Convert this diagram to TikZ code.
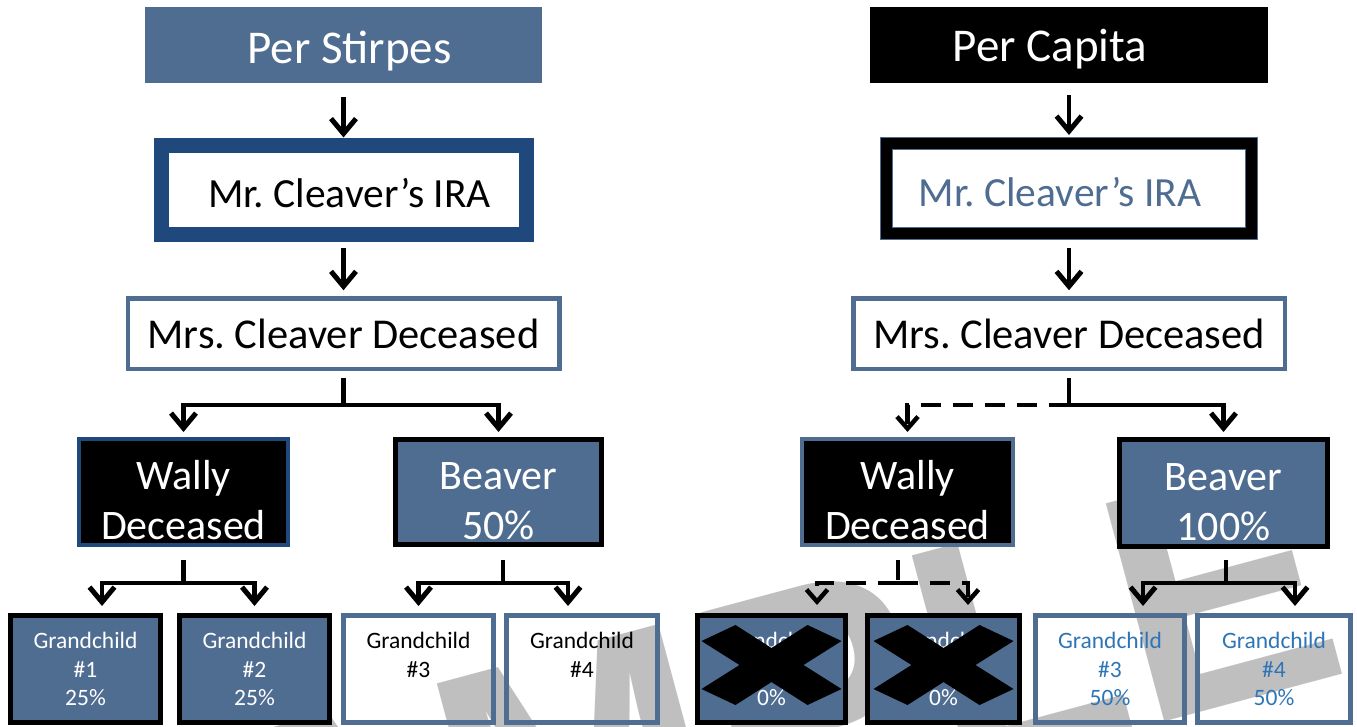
\documentclass[tikz,border=0pt]{standalone}
\usepackage{fontspec}
\setmainfont{Carlito}
\newfontfamily\wmfont{Liberation Sans}
\usetikzlibrary{arrows.meta}
\definecolor{sb}{RGB}{79,108,145}
\definecolor{db}{RGB}{31,73,125}
\definecolor{lb}{RGB}{46,117,182}
\definecolor{wmgray}{RGB}{191,191,191}
\newcommand{\fsA}{\fontsize{47}{56}\selectfont}
\newcommand{\fsB}{\fontsize{41.5}{50}\selectfont}
\newcommand{\fsM}{\fontsize{42.5}{50}\selectfont}
\newcommand{\fsC}{\fontsize{42}{50}\selectfont}
\newcommand{\fsD}{\fontsize{23.5}{28.5}\selectfont}
\newcommand{\wmfs}{\wmfont\bfseries\fontsize{328}{330}\selectfont}
\newcommand{\lowertop}{\rule{0pt}{45pt}}
\frenchspacing
\begin{document}
\begin{tikzpicture}[x=1pt,y=-1pt,
  box/.style={rectangle, inner sep=0pt, outer sep=0pt, align=center},
  gcfill/.style={box, draw=black, line width=5pt, fill=sb, text=white, minimum height=107pt, font=\fsD},
  gcopen/.style={box, draw=sb, line width=5pt, minimum height=107pt, font=\fsD},
  ln/.style={line width=4.5pt},
  arr/.style={line width=4.5pt, -{Straight Barb[length=15pt,width=25pt,line width=5pt]}},
  dln/.style={line width=4.5pt, dash pattern=on 20pt off 12pt},
  darr/.style={line width=4.5pt, dash pattern=on 20pt off 12pt, -{Straight Barb[length=12pt,width=21pt,line width=4.5pt]}},
  xmark/.style={fill=black}
]
\useasboundingbox (0,0) rectangle (1357,726);
\begin{scope}
\clip (0,0) rectangle (1357,726);
\node[text=wmgray, rotate=15, anchor=base west, inner sep=0pt, font=\wmfs] (wm) at (34,1025) {SAMPLE};
\end{scope}

% titles
\node[box, fill=sb, text=white, minimum width=397pt, minimum height=76pt, font=\fsA, text height=40pt, text depth=4pt] (stirpes) at (343.5,45) {Per Stirpes\hspace*{-12pt}};
\node[box, fill=black, text=white, minimum width=398pt, minimum height=76pt, font=\fsA, text height=37pt, text depth=4pt] (capita) at (1069,45) {\hspace*{-38pt}Per Capita};

% IRA boxes
\node[box, draw=db, line width=15pt, fill=white, minimum width=365pt, minimum height=89pt, font=\fsB, text height=34pt, text depth=0pt] (iraL) at (343.5,190) {Mr. Cleaver’s IRA\hspace*{-12pt}};
\node[box, draw=sb, line width=13pt, fill=white, text=sb, minimum width=365pt, minimum height=90pt, font=\fsB, text height=35pt, text depth=0pt, postaction={draw=black, line width=11pt}] (iraR) at (1069,188.5) {\hspace*{-18pt}Mr. Cleaver’s IRA};

% Mrs boxes
\node[box, draw=sb, line width=4.5pt, minimum width=431.5pt, minimum height=70.5pt, font=\fsM] (mrsL) at (343.5,333.5) {Mrs. Cleaver Deceased};
\node[box, draw=sb, line width=4.5pt, minimum width=431.5pt, minimum height=70.5pt, font=\fsM] (mrsR) at (1069,333.5) {Mrs. Cleaver Deceased};

% children
\node[box, draw=db, line width=4pt, fill=black, text=white, minimum width=209pt, minimum height=106pt, font=\fsC] (wallyL) at (183.5,492) {\lowertop Wally\\Deceased};
\node[box, draw=black, line width=5pt, fill=sb, text=white, minimum width=206pt, minimum height=105pt, font=\fsC] (beaverL) at (498.5,492) {\lowertop Beaver\\50\%};
\node[box, draw=sb, line width=4pt, fill=black, text=white, minimum width=211pt, minimum height=106pt, font=\fsC] (wallyR) at (907.5,492) {\lowertop Wally\\Deceased};
\node[box, draw=black, line width=5pt, fill=sb, text=white, minimum width=208pt, minimum height=107pt, font=\fsC] (beaverR) at (1223.5,493) {\lowertop Beaver\\100\%};

% grandchildren
\node[gcfill, minimum width=150pt] (gc1) at (85.5,669) {Grandchild\\\#1\\25\%};
\node[gcfill, minimum width=150pt] (gc2) at (254.5,669) {Grandchild\\\#2\\25\%};
\node[gcopen, minimum width=150pt] (gc3) at (418.5,669) {Grandchild\\\#3\\\phantom{0}};
\node[gcopen, minimum width=151pt] (gc4) at (582,669) {Grandchild\\\#4\\\phantom{0}};
\node[gcfill, minimum width=148pt] (x1) at (771.5,669) {Grandchild\\\#1\\0\%};
\node[gcfill, minimum width=152pt] (x2) at (943.5,669) {Grandchild\\\#2\\0\%};
\node[gcopen, text=lb, minimum width=149pt] (gc3r) at (1110,669) {Grandchild\\\#3\\50\%};
\node[gcopen, text=lb, minimum width=153pt] (gc4r) at (1274,669) {Grandchild\\\#4\\50\%};

% X marks
\fill[xmark, shift={([yshift=4pt]x1.center)}] (-70,-24) -- (-36,-40) -- (0,-17) -- (36,-40) -- (70,-24) -- (32,0) -- (70,24) -- (36,40) -- (0,17) -- (-36,40) -- (-70,24) -- (-32,0) -- cycle;
\fill[xmark, shift={([yshift=4pt]x2.center)}] (-70,-24) -- (-36,-40) -- (0,-17) -- (36,-40) -- (70,-24) -- (32,0) -- (70,24) -- (36,40) -- (0,17) -- (-36,40) -- (-70,24) -- (-32,0) -- cycle;

% top arrows
\draw[arr] ([yshift=-14pt]stirpes.south) -- ([yshift=8pt]iraL.north);
\draw[arr] ([yshift=-12pt]capita.south) -- ([yshift=8.5pt]iraR.north);
\draw[arr] ([yshift=-13.5pt]iraL.south) -- ([yshift=8pt]mrsL.north);
\draw[arr] ([yshift=-14.5pt]iraR.south) -- ([yshift=8pt]mrsR.north);

% Mrs -> children
\coordinate (jL) at ([yshift=-36.25pt]mrsL.south);
\draw[ln] ([yshift=-9pt]mrsL.south) -- (jL);
\draw[arr] (jL) -| ([yshift=7pt]wallyL.north);
\draw[arr] (jL) -| ([yshift=7.5pt]beaverL.north);
\coordinate (jR) at ([yshift=-36.25pt]mrsR.south);
\draw[ln] ([yshift=-9pt]mrsR.south) -- (jR);
\draw[arr] (jR) -| ([yshift=7.5pt]beaverR.north);
\draw[darr] (jR) -| ([yshift=7pt]wallyR.north);

% children -> grandchildren
\coordinate (kWL) at ([yshift=-38pt]wallyL.south);
\draw[ln] ([yshift=-15pt]wallyL.south) -- (kWL);
\draw[arr] (kWL) -| ([xshift=16.5pt,yshift=9.5pt]gc1.north);
\draw[arr] (kWL) -| ([yshift=9.5pt]gc2.north);

\coordinate (kBL) at ([xshift=4.5pt,yshift=-38.5pt]beaverL.south);
\draw[ln] ([xshift=4.5pt,yshift=-15.5pt]beaverL.south) -- (kBL);
\draw[arr] (kBL) -| ([yshift=9.5pt]gc3.north);
\draw[arr] (kBL) -| ([xshift=-14pt,yshift=9.5pt]gc4.north);

\coordinate (kWR) at ([xshift=-9.5pt,yshift=-38pt]wallyR.south);
\draw[dln] ([xshift=-9.5pt,yshift=-15pt]wallyR.south) -- (kWR);
\draw[darr] (kWR) -| ([xshift=45.5pt,yshift=10.5pt]x1.north);
\draw[darr] (kWR) -| ([xshift=24.5pt,yshift=10.5pt]x2.north);

\coordinate (kBR) at ([xshift=2.5pt,yshift=-36.5pt]beaverR.south);
\draw[ln] ([xshift=2.5pt,yshift=-13.5pt]beaverR.south) -- (kBR);
\draw[arr] (kBR) -| ([xshift=33pt,yshift=9.5pt]gc3r.north);
\draw[arr] (kBR) -| ([xshift=21pt,yshift=9.5pt]gc4r.north);
\end{tikzpicture}
\end{document}
